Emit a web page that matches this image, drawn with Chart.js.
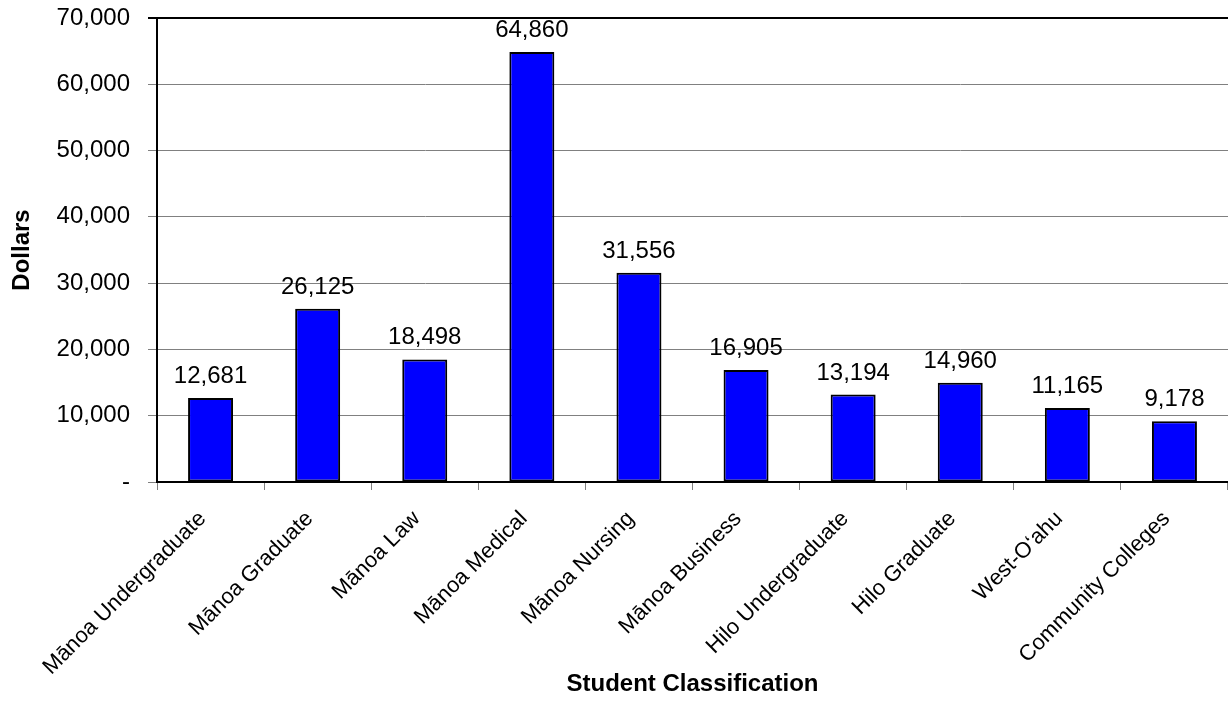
<!DOCTYPE html>
<html>
<head>
<meta charset="utf-8">
<script src="https://cdn.jsdelivr.net/npm/chart.js@4"></script>
<style>
    html, body { margin: 0; padding: 0; background: #fff; }
    #wrap { width: 1228px; height: 707px; }
</style>
</head>
<body>
<div id="wrap"><canvas id="chart"></canvas></div>
<script>
const categories = [
    "Mānoa Undergraduate",
    "Mānoa Graduate",
    "Mānoa Law",
    "Mānoa Medical",
    "Mānoa Nursing",
    "Mānoa Business",
    "Hilo Undergraduate",
    "Hilo Graduate",
    "West-O‘ahu",
    "Community Colleges",
];
const dollars = [12681, 26125, 18498, 64860, 31556, 16905, 13194, 14960, 11165, 9178];
const yTicks = [0, 10000, 20000, 30000, 40000, 50000, 60000, 70000];

const FONT = "'Liberation Sans', Arial, Helvetica, sans-serif";

function fmt(v) {
    return v === 0 ? "-" : v.toLocaleString("en-US");
}

// draws the value above each bar
const valueLabels = {
    id: "valueLabels",
    afterDatasetsDraw(chart) {
        const ctx = chart.ctx;
        const meta = chart.getDatasetMeta(0);
        ctx.save();
        ctx.font = "24px " + FONT;
        ctx.fillStyle = "#000";
        ctx.textAlign = "center";
        ctx.textBaseline = "alphabetic";
        meta.data.forEach((bar, i) => {
            ctx.fillText(fmt(dollars[i]), bar.x, bar.y - 15);
        });
        ctx.restore();
    },
};

new Chart(document.getElementById("chart"), {
    type: "bar",
    data: {
        labels: categories,
        datasets: [
            {
                data: dollars,
                backgroundColor: "#0000ff",
                borderColor: "#000",
                borderWidth: 2,
                borderSkipped: false,
                categoryPercentage: 1,
                barPercentage: 0.42,
            },
        ],
    },
    options: {
        responsive: true,
        maintainAspectRatio: false,
        animation: false,
        layout: { padding: { top: 18, right: 0, bottom: 4, left: 4 } },
        plugins: {
            legend: { display: false },
            tooltip: { enabled: false },
        },
        scales: {
            x: {
                offset: true,
                grid: {
                    offset: true,
                    drawOnChartArea: false,
                    drawTicks: true,
                    tickLength: 8,
                    color: "#808080",
                },
                border: { color: "#000", width: 2 },
                ticks: {
                    color: "#000",
                    font: { family: FONT, size: 22 },
                    minRotation: 45,
                    maxRotation: 45,
                    autoSkip: false,
                    padding: 16,
                    labelOffset: -8,
                },
                title: {
                    display: true,
                    text: "Student Classification",
                    color: "#000",
                    font: { family: FONT, size: 24, weight: "bold" },
                },
                afterFit(scale) {
                    scale.height = 221;
                    scale.paddingLeft = 0;
                    scale.paddingRight = 0;
                },
            },
            y: {
                min: 0,
                max: 70000,
                afterBuildTicks(scale) {
                    scale.ticks = yTicks.map((v) => ({ value: v }));
                },
                grid: {
                    color: (c) => (c.tick && c.tick.value === 70000 ? "#000" : "#808080"),
                    lineWidth: (c) => (c.tick && c.tick.value === 70000 ? 2 : 1),
                    tickLength: 9,
                },
                border: { color: "#000", width: 2 },
                ticks: {
                    color: "#000",
                    font: { family: FONT, size: 24 },
                    padding: 18,
                    callback: (v) => fmt(v),
                },
                title: {
                    display: true,
                    text: "Dollars",
                    color: "#000",
                    font: { family: FONT, size: 24, weight: "bold" },
                },
                afterFit(scale) {
                    scale.width = 153;
                    scale.paddingTop = 0;
                    scale.paddingBottom = 0;
                },
            },
        },
    },
    plugins: [valueLabels],
});
</script>
</body>
</html>
